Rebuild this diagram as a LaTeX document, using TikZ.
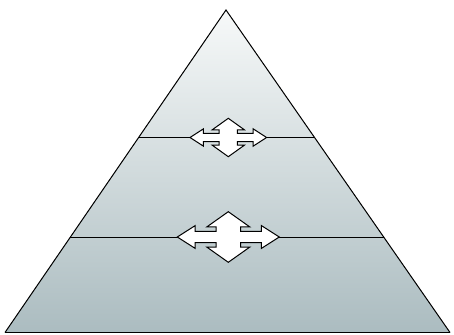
\documentclass[tikz,border=0pt]{standalone}
\usetikzlibrary{calc}

\definecolor{pyrtop}{RGB}{247,249,249}
\definecolor{pyrbottom}{RGB}{171,188,192}
\definecolor{baseline}{RGB}{120,135,140}

\tikzset{
	pyramid/.style={top color=pyrtop,bottom color=pyrbottom},
	layerline/.style={draw=black,line width=0.75pt},
	quadarrow/.style={draw=black,fill=white,line width=0.75pt,line join=miter},
	pics/quad arrow/.style={code={
		\draw[quadarrow] (1,0) -- (0.65,0.45) -- (0.65,0.22) -- (0.24,0.22) -- (0.24,0.4) -- (0.42,0.4)
			-- (0,1) -- (-0.42,0.4) -- (-0.24,0.4) -- (-0.24,0.22) -- (-0.65,0.22) -- (-0.65,0.45)
			-- (-1,0) -- (-0.65,-0.45) -- (-0.65,-0.22) -- (-0.24,-0.22) -- (-0.24,-0.4) -- (-0.42,-0.4)
			-- (0,-1) -- (0.42,-0.4) -- (0.24,-0.4) -- (0.24,-0.22) -- (0.65,-0.22) -- (0.65,-0.45) -- cycle;
	}}
}

\begin{document}
\begin{tikzpicture}[x=0.75pt,y=-0.75pt]
	\useasboundingbox (0,0) rectangle (454,335);

	\coordinate (apex) at (226,10);
	\coordinate (bl) at (5,332.5);
	\coordinate (br) at (450,332.5);

	\fill[pyramid] (apex) -- (bl) -- (br) -- cycle;
	\draw[baseline,line width=0.75pt] (bl) -- (br);
	\draw[layerline,line join=miter] (bl) -- (apex) -- (br);

	% layer borders
	\draw[layerline] ($(apex)!0.3944!(bl)$) -- ($(apex)!0.3944!(br)$);
	\draw[layerline] ($(apex)!0.705!(bl)$) -- ($(apex)!0.705!(br)$);

	\pic[xscale=38.3,yscale=19.2] at (228.3,137.5) {quad arrow};
	\pic[xscale=51,yscale=25.3] at (228.3,237) {quad arrow};

\end{tikzpicture}
\end{document}
